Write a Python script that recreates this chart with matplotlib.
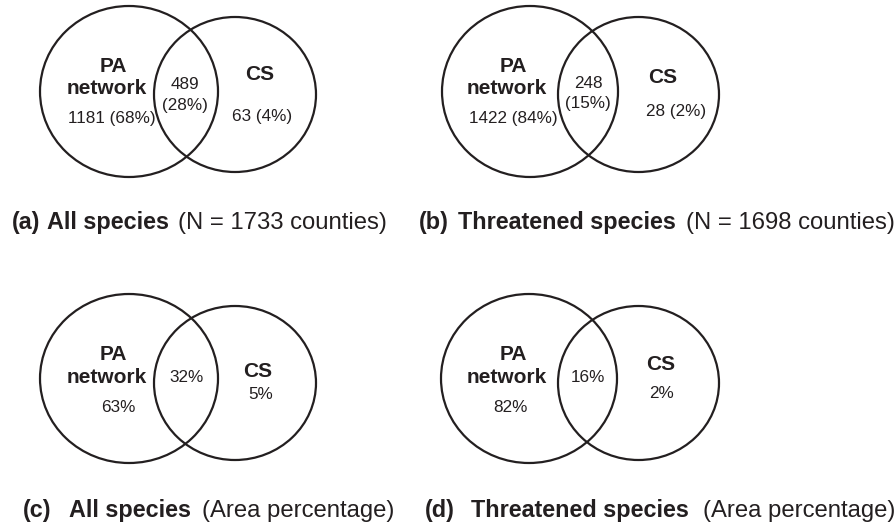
import matplotlib
matplotlib.use("Agg")
import matplotlib.pyplot as plt
from matplotlib.patches import Ellipse

plt.rcParams['font.family'] = ['Liberation Sans', 'DejaVu Sans']

# ---------------- data ----------------
panel_tags = ['(a)', '(b)', '(c)', '(d)']
groups = ['All species', 'Threatened species', 'All species', 'Threatened species']
notes = ['(N = 1733 counties)', '(N = 1698 counties)',
         '(Area percentage)', '(Area percentage)']
set_a_name = ['PA', 'network']
set_b_name = 'CS'
pa_only_n = [1181, 1422, None, None]
pa_only_pct = [68, 84, 63, 82]
both_n = [489, 248, None, None]
both_pct = [28, 15, 32, 16]
cs_only_n = [63, 28, None, None]
cs_only_pct = [4, 2, 5, 2]

# ---------------- layout (pixels, y down) ----------------
layout = [
    dict(L=(129, 91.5, 178, 171), R=(235, 94.5, 162, 155),
         pa=(113, 65), net=(107, 87), paval=(112, 117),
         both=(185, 83), both2=(185, 104),
         cs=(260, 73), csval=(262, 115),
         cap=(12, 46.7, 178, 229.5)),
    dict(L=(530, 91.5, 176, 171), R=(638.5, 94.5, 161, 155),
         pa=(513, 65), net=(507, 87), paval=(513, 117),
         both=(588, 82), both2=(588, 102),
         cs=(663, 76), csval=(676, 110),
         cap=(419, 458, 686, 229.5)),
    dict(L=(129, 378.5, 178, 169), R=(235, 383, 162, 154),
         pa=(113, 353), net=(107, 376), paval=(118, 406),
         both=(187, 376), both2=None,
         cs=(258, 370), csval=(261, 393),
         cap=(22.7, 69.3, 201.7, 517)),
    dict(L=(529, 378.5, 176, 169), R=(638.5, 383, 161, 154),
         pa=(513, 353), net=(507, 376), paval=(510, 406),
         both=(588, 376), both2=None,
         cs=(661, 363), csval=(661, 392),
         cap=(425, 471, 703, 517)),
]

W, H = 896, 524
DPI = 100
fig = plt.figure(figsize=(W / DPI, H / DPI), dpi=DPI)
ax = fig.add_axes([0, 0, 1, 1])
ax.set_xlim(0, W)
ax.set_ylim(H, 0)
ax.axis('off')

INK = '#231f20'
BOLD_PT = 15
NORM_PT = 12.3
CAP_BOLD_PT = 16.8
CAP_NORM_PT = 17.2


def put(x, yc, s, size, weight='normal', ha='center'):
    px = size * DPI / 72.0
    ax.text(x, yc + 0.358 * px, s, fontsize=size, fontweight=weight,
            ha=ha, va='baseline', color=INK)


for i, lay in enumerate(layout):
    for key in ('L', 'R'):
        cx, cy, w, h = lay[key]
        ax.add_patch(Ellipse((cx, cy), w, h, fill=False, ec=INK, lw=1.6))

    put(*lay['pa'], set_a_name[0], BOLD_PT, 'bold')
    put(*lay['net'], set_a_name[1], BOLD_PT, 'bold')
    put(*lay['cs'], set_b_name, BOLD_PT, 'bold')

    if pa_only_n[i] is not None:
        put(*lay['paval'], f'{pa_only_n[i]} ({pa_only_pct[i]}%)', NORM_PT)
        put(*lay['both'], f'{both_n[i]}', NORM_PT)
        put(*lay['both2'], f'({both_pct[i]}%)', NORM_PT)
        put(*lay['csval'], f'{cs_only_n[i]} ({cs_only_pct[i]}%)', NORM_PT)
    else:
        put(*lay['paval'], f'{pa_only_pct[i]}%', NORM_PT)
        put(*lay['both'], f'{both_pct[i]}%', NORM_PT)
        put(*lay['csval'], f'{cs_only_pct[i]}%', NORM_PT)

    x_tag, x_grp, x_note, yb = lay['cap']
    ax.text(x_tag, yb, panel_tags[i], fontsize=CAP_BOLD_PT, fontweight='bold',
            ha='left', va='baseline', color=INK)
    ax.text(x_grp, yb, groups[i], fontsize=CAP_BOLD_PT, fontweight='bold',
            ha='left', va='baseline', color=INK)
    ax.text(x_note, yb, notes[i], fontsize=CAP_NORM_PT, fontweight='normal',
            ha='left', va='baseline', color=INK)

fig.savefig('out.png', dpi=DPI, facecolor='white')
